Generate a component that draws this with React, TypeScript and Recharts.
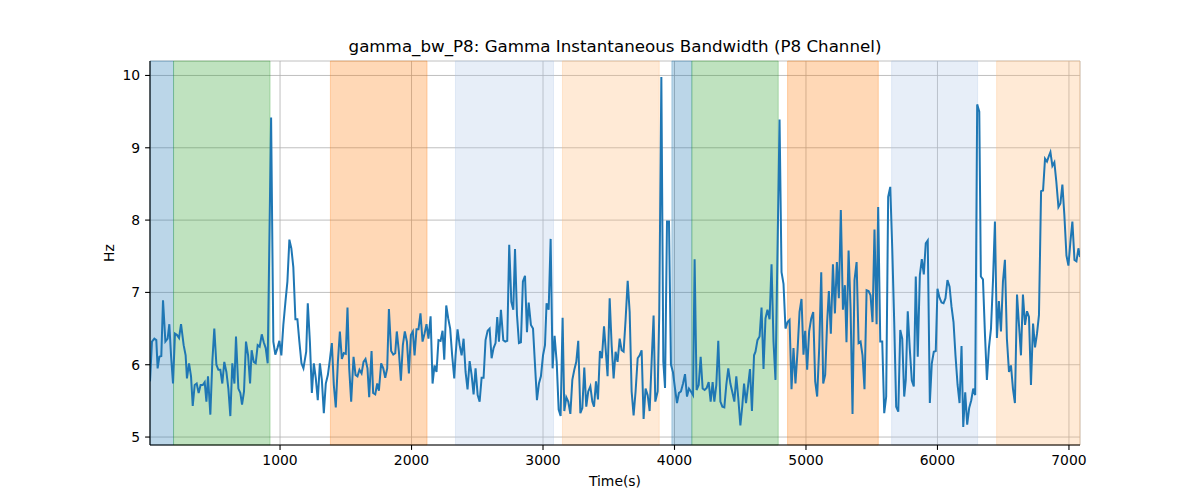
import React from "react";
import {
  LineChart,
  Line,
  XAxis,
  YAxis,
  CartesianGrid,
  ReferenceArea,
} from "recharts";

// Time (s) of each sample
const times: number[] = [
  11, 26, 44, 59, 69, 82, 97, 110, 128, 145, 158, 171, 186, 201, 217, 232, 247, 267, 282, 292,
  308, 323, 336, 351, 366, 381, 396, 412, 427, 440, 452, 470, 485, 500, 516, 531, 546, 561, 576, 592,
  607, 622, 637, 653, 665, 683, 698, 711, 726, 741, 757, 772, 784, 800, 815, 830, 845, 861, 876, 891,
  906, 932, 949, 964, 980, 995, 1010, 1025, 1041, 1056, 1071, 1086, 1101, 1117, 1132, 1147, 1163, 1178,
  1199, 1211, 1227, 1242, 1257, 1272, 1287, 1303, 1318, 1333, 1348, 1364, 1379, 1394, 1409, 1424, 1440,
  1455, 1470, 1485, 1500, 1513, 1526, 1541, 1559, 1574, 1589, 1604, 1620, 1635, 1650, 1665, 1678, 1696,
  1708, 1724, 1739, 1752, 1769, 1785, 1800, 1815, 1828, 1845, 1861, 1876, 1888, 1904, 1919, 1934, 1949,
  1965, 1980, 1995, 2010, 2023, 2038, 2053, 2068, 2084, 2099, 2114, 2129, 2145, 2160, 2175, 2190, 2205,
  2221, 2236, 2249, 2264, 2279, 2294, 2309, 2325,
  2335, 2350, 2366, 2381, 2396, 2411, 2426, 2442, 2457, 2472, 2487, 2503, 2518, 2533, 2548, 2563, 2579,
  2594, 2609, 2624, 2639, 2652, 2665, 2680, 2698, 2713, 2728, 2743, 2759, 2774, 2787, 2802, 2817, 2832,
  2847, 2863, 2878, 2891, 2908, 2924, 2939, 2954, 2969, 2984, 3000, 3015, 3027, 3043, 3058, 3073, 3088,
  3104, 3119, 3134, 3149, 3162, 3177, 3192, 3208, 3223, 3238, 3253, 3268, 3284, 3299, 3314, 3329, 3344,
  3360, 3375, 3388, 3403, 3418, 3433, 3448, 3464,
  3476, 3491, 3507, 3522, 3537, 3552, 3567, 3583, 3598, 3613, 3628, 3644, 3659, 3674, 3689, 3704, 3720,
  3735, 3750, 3765, 3780, 3796, 3811, 3826, 3841, 3854, 3872, 3884, 3900, 3915, 3928, 3943, 3958, 3973,
  3988, 4004, 4019, 4034, 4049, 4065, 4080, 4095, 4110, 4125, 4141, 4153, 4168, 4184, 4199, 4214, 4229,
  4245, 4260, 4275, 4290, 4303, 4318, 4333, 4349, 4364, 4379, 4394, 4409, 4425, 4440, 4455, 4470, 4485,
  4501, 4516, 4529, 4544, 4559, 4574, 4589, 4605,
  4616, 4631, 4647, 4662, 4677, 4692, 4707, 4723, 4738, 4753, 4768, 4799, 4814, 4829, 4844, 4860, 4875,
  4890, 4905, 4920, 4936, 4951, 4966, 4981, 4994, 5009, 5024, 5040, 5055, 5070, 5085, 5101, 5116, 5131,
  5146, 5161, 5174, 5189, 5205, 5220, 5235, 5250, 5265, 5281, 5296, 5308, 5324, 5339, 5354, 5369, 5385,
  5400, 5415, 5430, 5445, 5461, 5476, 5491, 5506, 5521, 5537, 5549, 5565, 5580, 5595, 5610, 5625, 5641,
  5656, 5671, 5686, 5702, 5717, 5732, 5747,
  5759, 5774, 5789, 5805, 5820, 5835, 5850, 5866, 5881, 5896, 5911, 5926, 5942, 5957, 5972, 5987, 6000,
  6015, 6031, 6046, 6061, 6076, 6092, 6107, 6122, 6137, 6153, 6168, 6183, 6196, 6211, 6226, 6241, 6257,
  6272, 6287, 6302, 6318, 6330, 6346, 6361, 6376, 6391, 6407, 6422, 6437, 6452, 6467, 6483, 6498, 6513,
  6528, 6544, 6559, 6574, 6589, 6605, 6620, 6635, 6650, 6666, 6681, 6696, 6711, 6727, 6742, 6757, 6772,
  6788, 6803, 6818, 6833, 6848, 6859, 6874, 6889, 6904, 6920, 6935, 6950, 6965, 6981, 6996, 7011, 7026,
  7042, 7057, 7072, 7084,
];

// Gamma instantaneous bandwidth (Hz), P8 channel
const bandwidth: number[] = [
  5.77, 6.32, 6.36, 6.34, 5.95, 6.11, 6.12, 6.89, 6.32, 6.36, 6.56, 6.13, 5.74, 6.43, 6.41, 6.37, 6.56, 6.27, 6.13, 5.81,
  6.02, 5.84, 5.43, 5.72, 5.74, 5.61, 5.72, 5.72, 5.76, 5.49, 5.84, 5.31, 6.04, 6.50, 6.00, 5.93, 5.93, 5.74, 6.04, 5.90,
  5.67, 5.29, 6.02, 5.74, 6.39, 5.67, 5.61, 5.45, 5.63, 6.32, 6.13, 5.74, 6.20, 6.04, 6.02, 6.27, 6.25, 6.42, 6.31, 6.23,
  6.02, 9.42, 6.32, 6.14, 6.23, 6.33, 6.13, 6.55, 6.87, 7.15, 7.73, 7.61, 7.35, 6.63, 6.63, 6.32, 6.02, 5.95,
  6.18, 6.85, 6.32, 5.61, 6.02, 5.81, 5.51, 6.02, 5.79, 5.33, 5.74, 5.86, 6.07, 6.30, 5.72, 5.41, 6.04,
  6.46, 6.08, 6.16, 6.15, 6.79, 5.95, 5.49, 6.11, 5.86, 5.84, 5.93, 5.88, 6.04, 6.08, 5.95, 5.55, 6.19,
  5.61, 5.59, 5.74, 5.64, 6.02, 5.95, 5.82, 5.95, 6.77, 6.19, 6.14, 6.16, 6.46, 6.18, 5.78, 6.27, 6.46,
  6.32, 5.88, 6.41, 6.46, 6.13, 6.49, 6.49, 6.71, 6.32, 6.43, 6.56, 6.36, 6.67, 5.74, 5.99, 5.90, 6.34,
  6.33, 6.47, 6.07, 6.82, 6.64, 6.50, 6.13, 5.81,
  6.13, 6.49, 6.27, 6.13, 6.36, 5.90, 5.66, 6.05, 5.86, 5.59, 5.95, 5.58, 5.49, 5.82, 5.82, 6.34, 6.47,
  6.50, 6.09, 6.23, 6.30, 6.66, 6.32, 6.76, 6.34, 6.32, 6.33, 7.66, 6.87, 6.76, 7.60, 6.69, 6.30, 6.31,
  7.15, 7.23, 6.45, 6.86, 6.55, 6.50, 6.00, 5.51, 5.74, 5.84, 6.13, 6.27, 6.85, 6.76, 7.74, 5.95, 6.40,
  6.04, 5.38, 5.29, 6.65, 5.36, 5.55, 5.49, 5.32, 5.79, 5.93, 6.04, 6.33, 5.33, 5.40, 5.96, 5.42, 5.63,
  5.70, 5.49, 5.42, 5.77, 5.52, 6.19, 6.09, 6.53,
  6.23, 5.84, 6.92, 6.27, 5.81, 6.18, 6.04, 6.36, 6.20, 6.18, 6.62, 7.16, 6.73, 5.63, 5.30, 5.63, 6.09,
  6.13, 6.20, 5.25, 5.67, 5.58, 5.36, 6.04, 6.68, 5.49, 5.63, 6.69, 9.98, 6.04, 5.68, 7.98, 7.98, 6.00,
  5.90, 5.67, 5.47, 5.61, 5.63, 5.74, 5.87, 5.56, 5.67, 5.63, 5.58, 7.46, 5.65, 5.72, 6.11, 5.67, 5.65,
  5.68, 5.76, 5.49, 5.76, 5.49, 5.72, 6.33, 5.49, 5.42, 5.41, 5.72, 5.95, 5.74, 5.62, 5.49, 5.84, 5.54,
  5.16, 5.44, 5.74, 5.47, 5.70, 5.94, 5.36, 6.13,
  6.18, 6.34, 6.39, 6.79, 5.94, 6.64, 6.76, 6.63, 7.39, 6.32, 5.79, 9.39, 7.28, 7.12, 6.50, 6.59, 6.62,
  5.66, 6.23, 5.74, 6.20, 6.73, 6.91, 6.14, 6.47, 5.93, 6.46, 6.64, 6.73, 5.77, 5.56, 6.25, 7.28, 5.74,
  5.86, 6.59, 7.02, 6.43, 7.39, 6.71, 7.42, 6.92, 8.14, 6.76, 7.10, 6.31, 7.58, 6.78, 5.32, 7.17, 7.42,
  6.30, 6.32, 6.13, 5.66, 7.03, 7.02, 6.96, 6.59, 7.87, 6.56, 8.18, 6.32, 6.32, 5.33, 5.56, 8.32, 8.46,
  7.61, 6.59, 5.42, 5.35, 6.48, 6.36, 5.56,
  5.79, 6.74, 6.23, 5.78, 5.70, 7.22, 6.11, 7.24, 7.46, 7.25, 7.68, 7.72, 5.47, 6.02, 6.18, 6.19, 7.05,
  6.93, 6.86, 6.85, 6.92, 7.17, 7.08, 6.80, 6.59, 6.13, 5.72, 5.47, 6.26, 5.14, 5.62, 5.17, 5.40, 5.51,
  5.67, 5.58, 9.60, 9.50, 7.22, 7.18, 6.43, 5.79, 6.23, 6.50, 7.15, 7.98, 6.37, 6.88, 6.46, 7.15, 7.45,
  6.36, 5.90, 5.99, 5.67, 5.47, 6.97, 6.55, 6.13, 6.97, 6.55, 6.74, 6.66, 5.72, 6.57, 6.24, 6.43, 6.69,
  8.40, 8.41, 8.85, 8.81, 8.89, 8.94, 8.75, 8.80, 8.53, 8.18, 8.23, 8.49, 8.07, 7.51, 7.37, 7.70, 7.98,
  7.45, 7.43, 7.61, 7.49,
];

// Shaded spans (start, end, colour)
const spanStarts: number[] = [11, 190, 1383, 2334, 3148, 3980, 4132, 4860, 5651, 6450];
const spanEnds: number[] = [190, 924, 2118, 3080, 3884, 4132, 4789, 5550, 6305, 7084];
const spanColors: string[] = [
  "#1f77b4", "#2ca02c", "#ff7f0e", "#aec7e8", "#ffbb78",
  "#1f77b4", "#2ca02c", "#ff7f0e", "#aec7e8", "#ffbb78",
];

const xTicks: number[] = [1000, 2000, 3000, 4000, 5000, 6000, 7000];
const yTicks: number[] = [5, 6, 7, 8, 9, 10];
const xDomain: [number, number] = [11, 7084];
const yDomain: [number, number] = [4.89, 10.2];

const data = times.map((t, i) => ({ t, v: bandwidth[i] }));

const FONT = "'DejaVu Sans', sans-serif";
const tickStyle = { fill: "#000", fontSize: 13.9, fontFamily: FONT };

export default function App() {
  return (
    <div style={{ position: "absolute", left: 0, top: 0, width: 1200, height: 500, background: "#fff" }}>
      <div
        style={{
          position: "absolute",
          left: 150,
          top: 38,
          width: 930,
          textAlign: "center",
          fontFamily: FONT,
          fontSize: 16.7,
          lineHeight: "16.7px",
          color: "#000",
          whiteSpace: "nowrap",
        }}
      >
        gamma_bw_P8: Gamma Instantaneous Bandwidth (P8 Channel)
      </div>
      <LineChart
        width={1200}
        height={500}
        data={data}
        margin={{ top: 61, right: 120, bottom: 25, left: 0 }}
      >
        <CartesianGrid stroke="#b0b0b0" strokeWidth={0.8} />
        {spanStarts.map((s, i) => (
          <ReferenceArea
            key={i}
            x1={s}
            x2={spanEnds[i]}
            fill={spanColors[i]}
            fillOpacity={0.3}
            stroke={spanColors[i]}
            strokeOpacity={0.3}
            strokeWidth={1}
          />
        ))}
        <XAxis
          dataKey="t"
          type="number"
          domain={xDomain}
          allowDataOverflow
          ticks={xTicks}
          height={30}
          tickSize={4.9}
          tickMargin={5}
          tick={tickStyle}
          stroke="#000"
          axisLine={{ stroke: "#000", strokeWidth: 1.1 }}
          tickLine={{ stroke: "#000", strokeWidth: 1.1 }}
          label={{
            content: (props: any) => {
              const vb = props.viewBox || { x: 150, y: 445, width: 930 };
              return (
                <text
                  x={vb.x + vb.width / 2}
                  y={vb.y + 41}
                  textAnchor="middle"
                  fontFamily={FONT}
                  fontSize={13.9}
                  fill="#000"
                >
                  Time(s)
                </text>
              );
            },
          }}
        />
        <XAxis
          xAxisId="top"
          orientation="top"
          type="number"
          domain={xDomain}
          allowDataOverflow
          height={0}
          tick={false}
          tickLine={false}
          axisLine={{ stroke: "#000", strokeWidth: 1.1 }}
        />
        <YAxis
          type="number"
          domain={yDomain}
          allowDataOverflow
          ticks={yTicks}
          width={150}
          tickSize={4.9}
          tickMargin={5}
          tick={tickStyle}
          axisLine={{ stroke: "#000", strokeWidth: 1.1 }}
          tickLine={{ stroke: "#000", strokeWidth: 1.1 }}
          label={{
            content: (props: any) => {
              const vb = props.viewBox || { x: 0, y: 61, width: 150, height: 384 };
              const x = vb.x + vb.width - 36;
              const y = vb.y + vb.height / 2;
              return (
                <text
                  x={x}
                  y={y}
                  transform={`rotate(-90 ${x} ${y})`}
                  textAnchor="middle"
                  fontFamily={FONT}
                  fontSize={13.9}
                  fill="#000"
                >
                  Hz
                </text>
              );
            },
          }}
        />
        <YAxis
          yAxisId="right"
          orientation="right"
          type="number"
          domain={yDomain}
          allowDataOverflow
          width={0}
          tick={false}
          tickLine={false}
          axisLine={{ stroke: "#000", strokeWidth: 1.1 }}
        />
        <Line
          type="linear"
          dataKey="v"
          stroke="#1f77b4"
          strokeWidth={2}
          dot={false}
          isAnimationActive={false}
        />
      </LineChart>
    </div>
  );
}
